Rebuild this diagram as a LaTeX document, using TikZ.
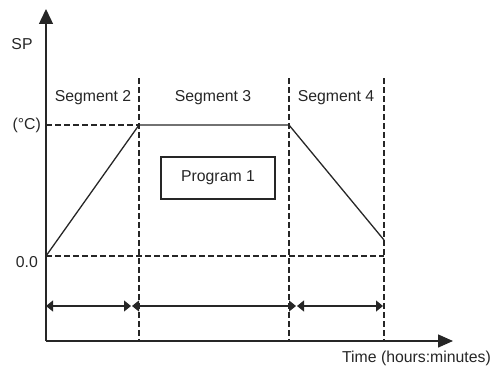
\documentclass[tikz,border=0pt]{standalone}
\usepackage{fontspec}
\setmainfont{Liberation Sans}
\usetikzlibrary{arrows.meta}
\begin{document}
\begin{tikzpicture}[x=1pt,y=-1pt,
  lbl/.style={inner sep=0pt,font=\fontsize{15.8}{17}\selectfont,text=black!85},
  axis/.style={line width=1.4pt,black!85},
  grid/.style={line width=1.3pt,black!85,dash pattern=on 6pt off 3pt},
  prof/.style={line width=1.3pt,black!85},
  dim/.style={line width=1.2pt,black!85,{Triangle[length=7pt,width=11pt]}-{Triangle[length=7pt,width=11pt]}}]
\useasboundingbox (0,0) rectangle (497,369);
% coordinates
\coordinate (O) at (46,341);
\coordinate (ytip) at (46,9);
\coordinate (xtip) at (453,341);
\coordinate (a) at (46,256);
\coordinate (b) at (139,125);
\coordinate (c) at (289,125);
\coordinate (d) at (384,240);
\coordinate (v1t) at (139,78); \coordinate (v1b) at (139,341);
\coordinate (v2t) at (289,78); \coordinate (v2b) at (289,341);
\coordinate (v3t) at (384,78); \coordinate (v3b) at (384,341);
\coordinate (h1) at (46,125);
\coordinate (h2l) at (46,256); \coordinate (h2r) at (384,256);
\coordinate (d1) at (46,306); \coordinate (d2) at (131,306);
\coordinate (d3) at (132,306); \coordinate (d4) at (296,306);
\coordinate (d5) at (297,306); \coordinate (d6) at (383,306);
% grid
\draw[grid] (v1t) -- (v1b);
\draw[grid] (v2t) -- (v2b);
\draw[grid] (v3t) -- (v3b);
\draw[grid] (h1) -- (b);
\draw[grid] (h2l) -- (h2r);
% profile
\draw[prof] (a) -- (b) -- (c) -- (d);
% axes
\draw[axis,-{Triangle[length=15pt,width=14pt]}] (O) -- (ytip);
\draw[axis,-{Triangle[length=15pt,width=13pt]}] (O) -- (xtip);
% dimension arrows
\draw[dim] (d1) -- (d2);
\draw[dim] (d3) -- (d4);
\draw[dim] (d5) -- (d6);
% box
\node[draw,line width=1.2pt,black!85,minimum width=114pt,minimum height=42pt,inner sep=0pt] (prog) at (218,178) {};
\node[lbl] (progt) at (prog.center) {Program 1};
% labels
\node[lbl] (sp) at (22,44) {SP};
\node[lbl,anchor=east] (degc) at (41,125) {(°C)};
\node[lbl,anchor=east] (zero) at (38,262) {0.0};
\node[lbl] (s2) at (93,98) {Segment 2};
\node[lbl] (s3) at (213,98) {Segment 3};
\node[lbl] (s4) at (336,98) {Segment 4};
\node[lbl,anchor=east] (time) at (491,358) {Time (hours:minutes)};
\end{tikzpicture}
\end{document}
